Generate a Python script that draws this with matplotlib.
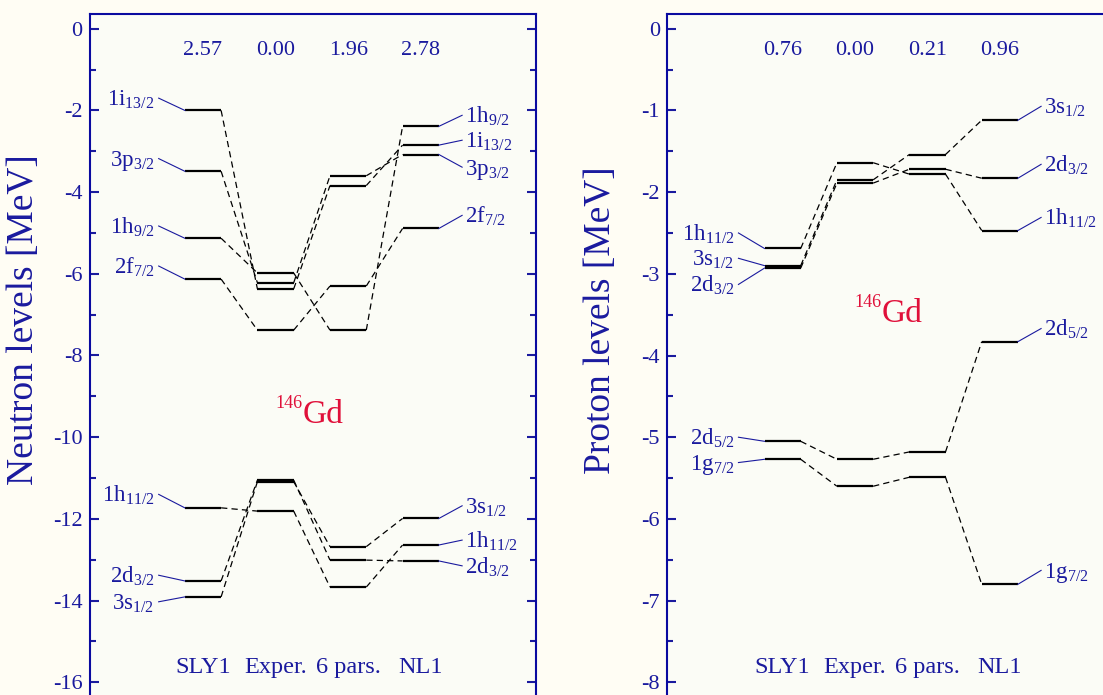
import numpy as np
import matplotlib.pyplot as plt
from matplotlib import transforms
from matplotlib.ticker import MultipleLocator

plt.rcParams['font.family'] = 'Liberation Serif'
plt.rcParams['mathtext.fontset'] = 'custom'
plt.rcParams['mathtext.rm'] = 'Liberation Serif'
plt.rcParams['mathtext.it'] = 'Liberation Serif:italic'
plt.rcParams['axes.unicode_minus'] = False
plt.rcParams['lines.scale_dashes'] = False

blue = '#1a1a9e'
red = '#e0103a'

models = ['SLY1', 'Exper.', '6 pars.', 'NL1']

# neutron single-particle levels (SLY1, Exper., 6 pars., NL1)
n_gap = ['2.57', '0.00', '1.96', '2.78']
n_states = ['1i13/2', '3p3/2', '1h9/2', '2f7/2', '1h11/2', '2d3/2', '3s1/2']
n_levels = [[-2.00, -6.37, -3.84, -2.85],
            [-3.49, -6.22, -3.60, -3.08],
            [-5.13, -5.98, -7.38, -2.39],
            [-6.13, -7.38, -6.30, -4.89],
            [-11.73, -11.81, -13.67, -12.64],
            [-13.52, -11.05, -13.01, -13.03],
            [-13.91, -11.09, -12.68, -11.99]]
# where the state names sit (left of SLY1, right of NL1)
n_lab_left = [-1.70, -3.18, -4.83, -5.81, -11.40, -13.38, -14.03]
n_lab_right = [-2.73, -3.39, -2.12, -4.57, -12.52, -13.15, -11.68]

# proton single-particle levels
p_gap = ['0.76', '0.00', '0.21', '0.96']
p_states = ['1h11/2', '3s1/2', '2d3/2', '2d5/2', '1g7/2']
p_levels = [[-2.69, -1.64, -1.78, -2.47],
            [-2.90, -1.85, -1.54, -1.12],
            [-2.93, -1.89, -1.72, -1.83],
            [-5.05, -5.27, -5.18, -3.83],
            [-5.27, -5.60, -5.49, -6.80]]
p_lab_left = [-2.50, -2.81, -3.13, -5.00, -5.31]
p_lab_right = [-2.31, -0.95, -1.66, -3.67, -6.63]


def fmt(s):
    return s[:2] + r'$_{\mathregular{' + s[2:] + '}}$'


def panel(ax, states, levels, lab_l, lab_r, gaps, gd_y):
    ax.set_facecolor('#fbfcf6')
    dpi_tr = ax.figure.dpi_scale_trans
    for k, st in enumerate(states):
        e = levels[k]
        for i in range(4):
            ax.plot([i, i + 0.5], [e[i], e[i]], color='black', lw=1.6,
                    solid_capstyle='butt')
            if i < 3:
                ax.plot([i + 0.5, i + 1], [e[i], e[i + 1]], color='black',
                        lw=0.9, dashes=(4.5, 3))
        # left name + connector
        ax.plot([-0.36, 0], [lab_l[k], e[0]], color=blue, lw=0.8)
        tr = ax.transData + transforms.ScaledTranslation(-3 / 72, -5.5 / 72, dpi_tr)
        ax.text(-0.36, lab_l[k], fmt(st), color=blue, fontsize=16.5,
                ha='right', va='baseline', transform=tr)
        # right name + connector
        ax.plot([3.5, 3.82], [e[3], lab_r[k]], color=blue, lw=0.8)
        tr = ax.transData + transforms.ScaledTranslation(2 / 72, -5.5 / 72, dpi_tr)
        ax.text(3.82, lab_r[k], fmt(st), color=blue, fontsize=16.5,
                ha='left', va='baseline', transform=tr)
    bt = ax.get_xaxis_transform()
    for i in range(4):
        ax.text(i + 0.25, 0.940, gaps[i], color=blue, fontsize=16,
                ha='center', va='baseline', transform=bt)
        ax.text(i + 0.25, 0.038, models[i], color=blue, fontsize=17.5,
                ha='center', va='baseline', transform=bt)
    ax.text(1.62, gd_y, 'Gd', color=red, fontsize=24,
            ha='left', va='baseline', transform=bt)
    tr = bt + transforms.ScaledTranslation(0, 11 / 72, dpi_tr)
    ax.text(1.62, gd_y, '146', color=red, fontsize=13,
            ha='right', va='baseline', transform=tr)
    ax.set_xticks([])
    ax.tick_params(axis='y', which='both', direction='in', left=True,
                   right=True, colors=blue, labelsize=16, pad=5, width=1.5)
    ax.tick_params(axis='y', which='major', length=6.5)
    ax.tick_params(axis='y', which='minor', length=4.3)
    for sp in ax.spines.values():
        sp.set_color('#0a0aa0')
        sp.set_linewidth(1.5)


fig = plt.figure(figsize=(11.03, 6.95), dpi=100, facecolor='#fffdf4')

ax1 = fig.add_axes([89.5 / 1103, -4 / 695, 446 / 1103, 685 / 695])
panel(ax1, n_states, n_levels, n_lab_left, n_lab_right, n_gap, 0.403)
ax1.set_xlim(-1.313, 4.831)
ax1.set_ylim(-16.41, 0.36)
ax1.yaxis.set_major_locator(MultipleLocator(2))
ax1.yaxis.set_minor_locator(MultipleLocator(1))

ax2 = fig.add_axes([666.7 / 1103, -4 / 695, 446 / 1103, 685 / 695])
panel(ax2, p_states, p_levels, p_lab_left, p_lab_right, p_gap, 0.550)
ax2.set_xlim(-1.351, 4.809)
ax2.set_ylim(-8.204, 0.18)
ax2.yaxis.set_major_locator(MultipleLocator(1))
ax2.yaxis.set_minor_locator(MultipleLocator(0.5))

fig.text(23.5 / 1103, 1 - 320 / 695, 'Neutron levels [MeV]', rotation=90,
         color=blue, fontsize=27, ha='center', va='center')
fig.text(601 / 1103, 1 - 320 / 695, 'Proton levels [MeV]', rotation=90,
         color=blue, fontsize=27, ha='center', va='center')

fig.savefig('out.png', dpi=100, facecolor=fig.get_facecolor())
